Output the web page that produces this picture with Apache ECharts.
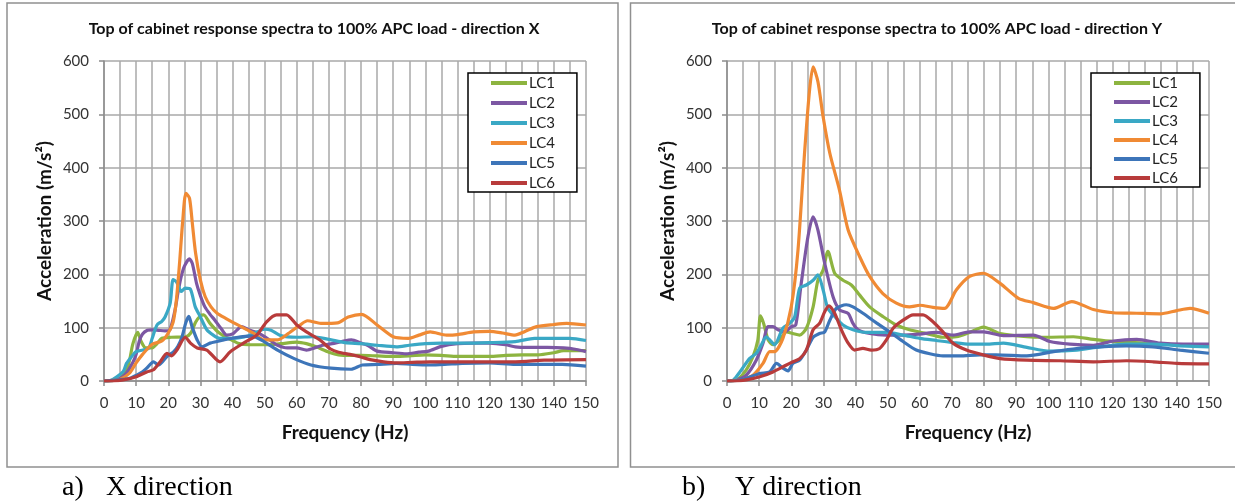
<!DOCTYPE html>
<html><head><meta charset="utf-8">
<script src="https://cdn.jsdelivr.net/npm/echarts@6/dist/echarts.min.js"></script>
<style>html,body{margin:0;padding:0;background:#fff}#c{width:1235px;height:502px}</style>
</head><body><div id="c"></div>
<script>
// ---------------- data ----------------
const SERIES_NAMES = ['LC1', 'LC2', 'LC3', 'LC4', 'LC5', 'LC6'];
const TITLE_X = 'Top of cabinet response spectra to 100% APC load - direction X';
const TITLE_Y = 'Top of cabinet response spectra to 100% APC load - direction Y';
const X_AXIS_NAME = 'Frequency (Hz)';
const Y_AXIS_NAME = 'Acceleration (m/s²)';
const CAPTIONS = [['a)', 'X direction'], ['b)', 'Y direction']];

// Direction X : [frequency Hz, acceleration m/s2]
const X_LC1 = [[0,0],[3,1],[5,5],[7,20],[8,40],[9,70],[10.5,91],[11.5,75],[13,62],[15,62],[16.5,70],[18,80],[21,82],[25.5,83],[27,90],[28.5,110],[30,122],[31,124],[33,108],[35.5,92],[38,82],[40,76],[42,70],[45,68],[50,68],[55,70],[60,73],[63,70],[66,64],[70,54],[73,49],[77,48],[80,48],[85,47],[90,46],[95,47],[100,49],[105,48],[110,46],[115,46],[120,46],[125,48],[130,49],[135,49],[140,53],[143,57],[150,57]];
const X_LC2 = [[0,0],[3,1],[5,5],[7,15],[9,35],[10,50],[11,75],[12,88],[13.5,95],[15,96],[17,95],[19,94],[20.5,96],[22,130],[23,165],[24,195],[25,215],[26.6,229],[27.5,220],[28.8,183],[30,160],[31.4,139],[33,125],[34.5,114],[36.5,98],[38.2,86],[40.2,89],[42.8,102],[45,96],[48,90],[50,83],[52,75],[54,67],[57,62],[60,62],[63,58],[66,63],[68,67],[71,70],[74,74],[77,77],[80,71],[82,67],[85,56],[90,53],[94,51],[98,54],[101,56],[105,65],[110,70],[115,71],[120,71],[125,68],[128,64],[132,63],[138,63],[143,62],[147,59],[150,55]];
const X_LC3 = [[0,0],[2,1],[4,8],[6,18],[7,33],[8.5,45],[10,55],[12.8,59],[14,62],[15,80],[16.5,105],[18,112],[19,120],[20.6,146],[21.5,190],[22.5,186],[23.2,178],[24,168],[25.3,174],[26.9,172],[28.4,139],[30,120],[32,96],[34,86],[36,80],[40,80],[45,85],[50,97],[52,95],[55,85],[60,82],[65,83],[70,78],[75,72],[80,70],[85,67],[91,64],[95,67],[100,70],[105,71],[111.5,71],[120,72],[128,74],[134,80],[140,80],[145,80],[150,76]];
const X_LC4 = [[0,0],[3,1],[5,3],[8,15],[10,34],[12,50],[15,69],[18,75],[20,90],[21.5,110],[22.5,150],[23.5,220],[24.5,300],[25.5,352],[26.6,343],[27.5,295],[28.5,240],[30,189],[31.5,158],[33.3,139],[35.2,127],[38,117],[40.4,109],[44.6,96],[47,88],[49.8,77],[54,77],[56,83],[58,92],[61,105],[63.3,113],[67.5,108],[72.7,109],[76,120],[80.2,125],[85,105],[90,83],[94.7,80],[98,86],[101.5,92],[106.6,86],[110,87],[115,92],[120,93],[124,90],[127.9,86],[131,93],[134.6,102],[140,106],[144,108],[150,105]];
const X_LC5 = [[0,0],[3,1],[6,3],[8,5],[10.2,11],[12,17],[13.3,24],[15.4,36],[17,30],[19.6,46],[21.7,55],[23,65],[24.3,83],[25.5,110],[26.4,121],[27.4,102],[29,77],[30.5,64],[33,71],[37.3,77],[42.5,83],[46,84],[49.8,74],[54,58],[59.2,42],[64.4,30],[70.6,24],[76.9,22],[80.4,30],[85,31],[91,33],[96,31],[101.5,30],[106,31],[111.5,33],[120,34],[128,31],[135,31],[142.6,31],[150,28]];
const X_LC6 = [[0,0],[3,0],[6,2],[10,8],[13.3,17],[15.4,21],[17.5,36],[19.6,52],[21,47],[22.7,58],[25.3,82],[26.9,71],[29,62],[32,58],[36.1,36],[39.3,55],[43.4,71],[47.5,86],[50.6,111],[53.7,124],[56.8,124],[60,105],[63,92],[67.2,77],[70.5,60],[73,54],[76.5,50],[80,45],[82.8,40],[87,36],[91,34],[96,35],[101.5,36],[111.5,36],[120,36],[128,36],[137,39],[150,40]];

// Direction Y : [frequency Hz, acceleration m/s2]
const Y_LC1 = [[0,0],[3,2],[6,21],[8.1,46],[9.6,77],[10.4,122],[11.4,108],[12.8,77],[14.3,68],[16.4,77],[18.5,92],[20.5,89],[22.6,86],[24.7,99],[26.8,139],[28.3,189],[29.9,208],[31.4,243],[33.5,202],[36.1,189],[38.7,180],[41.3,161],[44.4,139],[48.5,121],[52.7,105],[56.8,96],[62,89],[67.2,82],[71.4,83],[75.5,91],[79.8,101],[85,89],[93.3,83],[99.5,82],[107.8,83],[114,78],[120.2,74],[130.6,71],[140,68],[150,68]];
const Y_LC2 = [[0,0],[3,2],[6,11],[9.1,39],[11.2,71],[12.8,102],[14.3,102],[15.9,96],[18,92],[20,102],[21.4,105],[23.1,183],[25.2,271],[26.8,308],[28.3,283],[30.4,221],[33,158],[35.1,133],[37.7,127],[39.2,108],[40.8,96],[44.4,89],[49.6,86],[54.8,86],[60,88],[65.1,91],[70.3,86],[75.5,92],[79.8,92],[86,85],[95.3,86],[100.5,74],[106.7,69],[114,67],[120.2,75],[127.5,78],[134.8,71],[142,69],[150,69]];
const Y_LC3 = [[0,0],[2,2],[4,17],[7,42],[9.1,52],[10.7,68],[12.2,83],[13.3,77],[14.8,68],[17.4,99],[19.5,108],[21.1,121],[22.6,174],[24.7,180],[26.8,189],[28.3,199],[29.9,171],[31.4,136],[33.5,121],[36.1,105],[39.2,96],[43.4,91],[49.6,91],[54.8,86],[60,80],[65.1,76],[70.3,72],[75.5,69],[80.7,69],[86,71],[93.3,63],[100.5,56],[108.8,58],[116,64],[124.3,69],[132.6,69],[141,66],[150,64]];
const Y_LC4 = [[0,0],[3,1],[5,3],[8.1,11],[11.2,33],[13.3,55],[14.8,55],[17.4,80],[20,139],[22.1,246],[24.2,433],[25.7,546],[26.8,589],[28.3,561],[29.9,496],[32,427],[35,358],[37.7,283],[41.3,233],[44.4,196],[48.5,164],[52.7,146],[56.8,139],[60,142],[64.1,138],[67.7,136],[71.4,171],[75.5,196],[79.8,202],[85,183],[90.7,155],[95.3,147],[101.6,136],[107.3,149],[114,134],[120.2,128],[127.5,127],[134.8,126],[140,132],[144.1,136],[150,127]];
const Y_LC5 = [[0,0],[3,1],[6,5],[10.2,14],[13.3,17],[15.4,33],[17.4,24],[19,19],[20.5,33],[22.6,39],[24.7,58],[26.8,82],[28.8,89],[30.4,92],[32,114],[34,136],[37.1,143],[39.2,139],[42.3,127],[46.5,109],[50.6,92],[54.8,74],[58.9,58],[63.1,51],[67.2,47],[72.4,47],[78.6,49],[83.8,49],[93.3,47],[101.6,55],[108.8,61],[116,64],[124.3,66],[132.6,64],[141,58],[150,52]];
const Y_LC6 = [[0,0],[3,0],[6,2],[10.2,8],[14.3,17],[18.5,30],[20.5,36],[22.6,42],[24.7,58],[26.8,96],[28.8,108],[30.4,130],[31.7,141],[33.5,127],[35.6,96],[37.7,71],[39.7,58],[42.3,61],[44.9,58],[47.5,61],[49.6,77],[51.7,99],[54.8,114],[57.9,124],[61,124],[64.1,111],[67.2,92],[70.3,71],[74.5,58],[79.7,49],[85,42],[93.3,39],[103.7,38],[114,36],[124.3,38],[132.6,36],[140,33],[150,32]];

const X_DATA = [X_LC1, X_LC2, X_LC3, X_LC4, X_LC5, X_LC6];
const Y_DATA = [Y_LC1, Y_LC2, Y_LC3, Y_LC4, Y_LC5, Y_LC6];

// ---------------- styling ----------------
const COLORS = ['#8DB440', '#7C57A3', '#3AA8C5', '#F08A34', '#3D75B9', '#B83B3B'];
const FONT = 'Lato, "Open Sans", sans-serif';
const GRID_C = '#a9a9a9';
const AXIS_C = '#8c8c8c';

function xAxisFor(i) {
  return {
    type: 'value', gridIndex: i, min: 0, max: 150, interval: 10,
    axisLine: { show: true, onZero: false, lineStyle: { color: AXIS_C, width: 1.5 } },
    axisTick: { show: true, length: 5, lineStyle: { color: AXIS_C, width: 1.5 } },
    axisLabel: { color: '#333', fontSize: 15, fontFamily: FONT, margin: 15 },
    splitLine: { show: true, lineStyle: { color: GRID_C, width: 1.5 } },
    minorTick: { show: false, splitNumber: 2 },
    minorSplitLine: { show: true, lineStyle: { color: GRID_C, width: 1.5 } },
    name: X_AXIS_NAME, nameLocation: 'middle', nameGap: 42,
    nameTextStyle: { fontWeight: 'bold', fontSize: 19, color: '#111', fontFamily: FONT }
  };
}
function yAxisFor(i) {
  return {
    type: 'value', gridIndex: i, min: 0, max: 600, interval: 100,
    axisLine: { show: true, lineStyle: { color: AXIS_C, width: 1.5 } },
    axisTick: { show: true, length: 5, lineStyle: { color: AXIS_C, width: 1.5 } },
    axisLabel: { color: '#333', fontSize: 15, fontFamily: FONT, margin: 15 },
    splitLine: { show: true, lineStyle: { color: GRID_C, width: 1.5 } },
    name: Y_AXIS_NAME, nameLocation: 'middle', nameGap: 50,
    nameTextStyle: { fontWeight: 'bold', fontSize: 19, color: '#111', fontFamily: FONT }
  };
}
function legendFor(left, gap) {
  return {
    left: left, top: 73, orient: 'vertical', data: SERIES_NAMES,
    icon: 'rect', itemWidth: 36, itemHeight: 4, itemGap: gap,
    padding: [2, 22, 1, 23], borderColor: '#000', borderWidth: 1.5, backgroundColor: '#fff',
    textStyle: { fontSize: 15, fontFamily: FONT, color: '#222', lineHeight: 16, padding: [0, 0, 0, -3] }
  };
}
const series = [];
[X_DATA, Y_DATA].forEach((set, g) => {
  set.forEach((d, k) => {
    series.push({
      name: SERIES_NAMES[k], type: 'line', xAxisIndex: g, yAxisIndex: g, data: d,
      showSymbol: false, symbol: 'none', smooth: 0.25, z: 3 + k,
      lineStyle: { width: 3.2, color: COLORS[k] }, itemStyle: { color: COLORS[k] }
    });
  });
});

const chart = echarts.init(document.getElementById('c'), null, { renderer: 'canvas' });
chart.setOption({
  animation: false,
  backgroundColor: '#fff',
  color: COLORS,
  grid: [
    { left: 104, top: 61, width: 482, height: 320 },
    { left: 727, top: 61, width: 482, height: 320 }
  ],
  xAxis: [xAxisFor(0), xAxisFor(1)],
  yAxis: [yAxisFor(0), yAxisFor(1)],
  legend: [legendFor(468, 4), legendFor(1091, 3)],
  series: series,
  graphic: [
    { type: 'rect', z: -1, shape: { x: 7, y: 3, width: 611, height: 464 }, style: { fill: '#fff', stroke: '#909090', lineWidth: 1.5 } },
    { type: 'rect', z: -1, shape: { x: 630.5, y: 3, width: 620, height: 464 }, style: { fill: '#fff', stroke: '#909090', lineWidth: 1.5 } },
    { type: 'text', style: { text: TITLE_X, x: 314, y: 29, textAlign: 'center', textVerticalAlign: 'middle', font: 'bold 16px ' + FONT, fill: '#111' } },
    { type: 'text', style: { text: TITLE_Y, x: 937, y: 29, textAlign: 'center', textVerticalAlign: 'middle', font: 'bold 16px ' + FONT, fill: '#111' } },
    { type: 'text', style: { text: CAPTIONS[0][0], x: 62, y: 488, textVerticalAlign: 'middle', font: '28px "Liberation Serif", serif', fill: '#000' } },
    { type: 'text', style: { text: CAPTIONS[0][1], x: 106, y: 488, textVerticalAlign: 'middle', font: '28px "Liberation Serif", serif', fill: '#000' } },
    { type: 'text', style: { text: CAPTIONS[1][0], x: 682, y: 488, textVerticalAlign: 'middle', font: '28px "Liberation Serif", serif', fill: '#000' } },
    { type: 'text', style: { text: CAPTIONS[1][1], x: 735, y: 488, textVerticalAlign: 'middle', font: '28px "Liberation Serif", serif', fill: '#000' } }
  ]
});
</script></body></html>
